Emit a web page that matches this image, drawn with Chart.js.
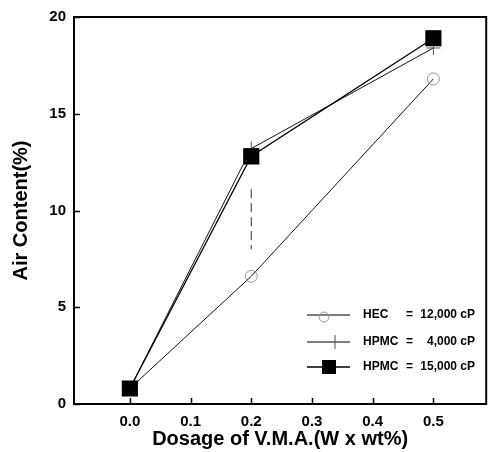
<!DOCTYPE html>
<html>
<head>
<meta charset="utf-8">
<script src="https://cdn.jsdelivr.net/npm/chart.js@4.4.0/dist/chart.umd.min.js"></script>
<style>
  html, body { margin: 0; padding: 0; background: #fff; }
  #wrap { width: 498px; height: 452px; }
</style>
</head>
<body>
<div id="wrap"><canvas id="chart"></canvas></div>
<script>
// values
const dosage = [0.0, 0.2, 0.5];
const hec12000 = [0.8, 6.6, 16.8];
const hpmc4000 = [0.8, 13.2, 18.4];
const hpmc15000 = [0.8, 12.8, 18.9];
// dashed bar under the 0.2 point
const barX = [0.2, 0.2];
const barY = [11.1, 8.0];
const xTicks = [0.0, 0.1, 0.2, 0.3, 0.4, 0.5];
const yTicks = [0, 5, 10, 15, 20];
const legendNames = ['HEC', 'HPMC', 'HPMC'];
const legendValues = ['12,000 cP', '4,000 cP', '15,000 cP'];

const toPoints = (xs, ys) => xs.map((x, i) => ({ x: x, y: ys[i] }));
const FONT = "'Liberation Sans', Arial, sans-serif";

// frame, inward ticks and the boxed-in legend
const framePlugin = {
  id: 'frame',
  afterDraw(chart) {
    const { ctx, chartArea: a, scales } = chart;
    ctx.save();
    ctx.strokeStyle = '#000';
    ctx.lineWidth = 2;
    ctx.strokeRect(a.left, a.top, a.right - a.left, a.bottom - a.top);

    ctx.lineWidth = 1.5;
    ctx.beginPath();
    xTicks.forEach(v => {
      const px = Math.round(scales.x.getPixelForValue(v)) + 0.5;
      ctx.moveTo(px, a.bottom);
      ctx.lineTo(px, a.bottom - 6);
    });
    yTicks.forEach(v => {
      const py = Math.round(scales.y.getPixelForValue(v)) + 0.5;
      ctx.moveTo(a.left, py);
      ctx.lineTo(a.left + 6, py);
    });
    ctx.stroke();

    // legend
    const rows = [315, 342, 367];
    ctx.font = 'bold 12px ' + FONT;
    ctx.fillStyle = '#000';
    ctx.textBaseline = 'middle';
    rows.forEach((y, i) => {
      ctx.strokeStyle = '#000';
      ctx.lineWidth = i === 2 ? 1.5 : 1;
      ctx.beginPath();
      ctx.moveTo(307, y);
      ctx.lineTo(350, y);
      ctx.stroke();
      if (i === 0) {
        ctx.strokeStyle = '#999';
        ctx.lineWidth = 1;
        ctx.beginPath();
        ctx.arc(324, y + 2, 5, 0, Math.PI * 2);
        ctx.stroke();
      } else if (i === 1) {
        ctx.strokeStyle = '#555';
        ctx.lineWidth = 1;
        ctx.beginPath();
        ctx.moveTo(335, y - 7);
        ctx.lineTo(335, y + 7);
        ctx.stroke();
      } else {
        ctx.fillRect(322, y - 7, 14, 14);
      }
      ctx.textAlign = 'left';
      ctx.fillText(legendNames[i], 363, y);
      ctx.fillText('=', 406, y);
      ctx.textAlign = 'right';
      ctx.fillText(legendValues[i], 475, y);
    });
    ctx.restore();
  }
};

new Chart(document.getElementById('chart'), {
  type: 'line',
  data: {
    datasets: [
      {
        label: 'HPMC = 15,000 cP',
        data: toPoints(dosage, hpmc15000),
        borderColor: '#000',
        backgroundColor: '#000',
        borderWidth: 1.3,
        pointStyle: 'rect',
        pointRadius: 10.5,
        order: 0
      },
      {
        label: 'HPMC = 4,000 cP',
        data: toPoints(dosage, hpmc4000),
        borderColor: '#111',
        pointBorderColor: '#555',
        borderWidth: 1,
        pointStyle: 'cross',
        pointRadius: 7,
        pointBorderWidth: 1,
        order: 1
      },
      {
        label: 'HEC = 12,000 cP',
        data: toPoints(dosage, hec12000),
        borderColor: '#111',
        pointBorderColor: '#999',
        pointBackgroundColor: 'rgba(0,0,0,0)',
        borderWidth: 1,
        pointStyle: 'circle',
        pointRadius: 6,
        pointBorderWidth: 1,
        order: 2
      },
      {
        label: 'bar',
        data: toPoints(barX, barY),
        borderColor: '#333',
        borderWidth: 1,
        borderDash: [9, 5],
        pointRadius: 0,
        order: 3
      }
    ]
  },
  options: {
    responsive: true,
    maintainAspectRatio: false,
    animation: false,
    layout: { padding: { top: 14, right: 9, left: 0, bottom: 0 } },
    plugins: {
      legend: { display: false },
      tooltip: { enabled: false }
    },
    scales: {
      x: {
        type: 'linear',
        min: -0.092,
        max: 0.587,
        afterBuildTicks: scale => { scale.ticks = xTicks.map(v => ({ value: v })); },
        afterFit: scale => { scale.height = 48; },
        grid: { display: false, drawTicks: false },
        border: { display: false },
        ticks: {
          color: '#000',
          padding: 9,
          maxRotation: 0,
          font: { family: FONT, size: 15, weight: 'bold' },
          callback: v => v.toFixed(1)
        },
        title: {
          display: true,
          text: 'Dosage of V.M.A.(W x wt%)',
          color: '#000',
          padding: { top: 0, bottom: 1 },
          font: { family: FONT, size: 20, weight: 'bold' }
        }
      },
      y: {
        min: 0,
        max: 20,
        afterBuildTicks: scale => { scale.ticks = yTicks.map(v => ({ value: v })); },
        afterFit: scale => { scale.width = 74; },
        grid: { display: false, drawTicks: false },
        border: { display: false },
        ticks: {
          color: '#000',
          padding: 8,
          font: { family: FONT, size: 15, weight: 'bold' }
        },
        title: {
          display: true,
          text: 'Air Content(%)',
          color: '#000',
          padding: { top: 9, bottom: 0 },
          font: { family: FONT, size: 20, weight: 'bold' }
        }
      }
    }
  },
  plugins: [framePlugin]
});
</script>
</body>
</html>
